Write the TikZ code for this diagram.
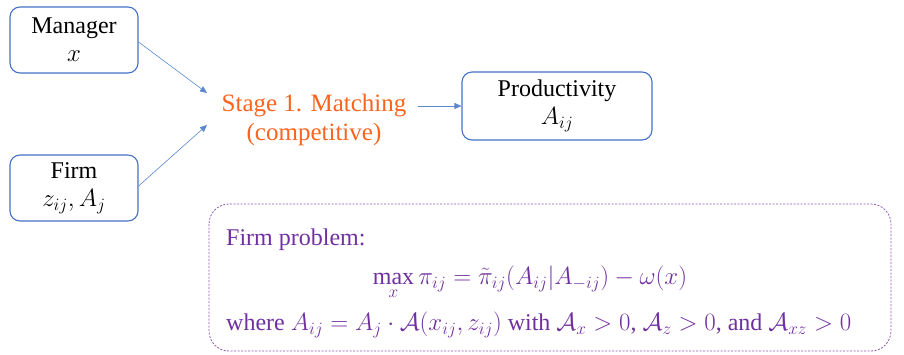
\documentclass[tikz,border=0pt]{standalone}
\usepackage{fontspec}
\setmainfont{Liberation Serif}
\usetikzlibrary{arrows.meta}
\definecolor{boxblue}{RGB}{68,114,196}
\definecolor{arrblue}{RGB}{90,135,205}
\definecolor{stageorange}{RGB}{250,100,30}
\definecolor{probpurple}{RGB}{112,48,160}
\begin{document}
\begin{tikzpicture}[x=1pt,y=-1pt,
  agent/.style={draw=boxblue,line width=1.1pt,rounded corners=10pt,align=center,inner sep=0pt,font=\fontsize{24}{28}\selectfont},
  link/.style={draw=arrblue,line width=0.6pt,-{Triangle[length=7pt,width=6pt]}},
  prob/.style={text=probpurple,font=\fontsize{24}{28}\selectfont,inner sep=0pt},
]
\useasboundingbox (0,0) rectangle (904,354);
\node[agent,minimum width=128pt,minimum height=66pt] (mgr) at (74,40) {Manager\\$x$};
\node[agent,minimum width=128pt,minimum height=66pt] (firm) at (74,188) {Firm\\$z_{ij},A_j$};
\node[agent,minimum width=190pt,minimum height=68pt] (prod) at (557,106) {Productivity\\$A_{ij}$};
\node[text=stageorange,align=center,font=\fontsize{25}{29}\selectfont,inner sep=2pt] (stage) at (314,120) {Stage 1. Matching\\(competitive)};
\coordinate (in1) at (207,93);
\coordinate (in2) at (207,125);
\draw[link] (mgr.east |- 0,42) -- (in1);
\draw[link] (firm.east |- 0,186) -- (in2);
\coordinate (s0) at (418,106);
\draw[link] (s0) -- (prod.west |- s0);
\draw[draw=probpurple!80,dashed,line width=0.8pt,dash pattern=on 2pt off 1.5pt,rounded corners=20pt] (209,204) rectangle (891,351);
\node[prob,anchor=west] (fp) at (226,240) {Firm problem:};
\node[prob] (eq) at (530,282) {$\displaystyle\max\limits_{\rule{0pt}{11pt}x} \pi_{ij} = \tilde{\pi}_{ij}\bigl(A_{ij}|A_{-ij}\bigr) - \omega(x)$};
\node[prob,anchor=west] (wh) at (226,325) {where $A_{ij} = A_j\cdot\mathcal{A}\bigl(x_{ij},z_{ij}\bigr)$ with $\mathcal{A}_x>0$, $\mathcal{A}_z>0$, and $\mathcal{A}_{xz}>0$};
\end{tikzpicture}
\end{document}
